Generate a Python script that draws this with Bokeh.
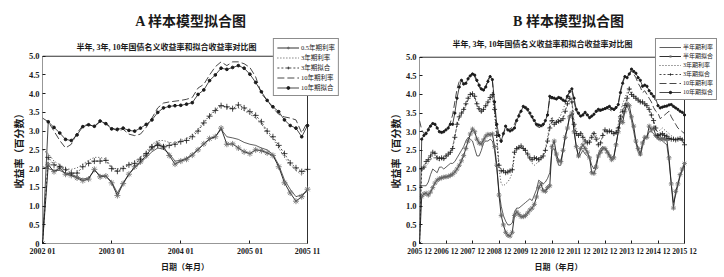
from bokeh.plotting import figure
from bokeh.models import Range1d, FixedTicker, Legend, LegendItem, Title, Label
from bokeh.layouts import row
from bokeh.embed import file_html
from bokeh.resources import INLINE

# ---------------- Panel A (monthly, 2002-01 .. 2005-11) ----------------
a_tick_pos = [0, 12, 24, 36, 46]
a_tick_labels = ["2002 01", "2003 01", "2004 01", "2005 01", "2005 11"]

a_half_rate = [2.05, 2.00, 1.95, 1.95, 1.88, 1.85, 1.78, 1.72, 1.75, 1.95, 1.82, 1.80, 1.65, 1.35, 1.62, 1.85,
               2.02, 2.15, 2.30, 2.45, 2.55, 2.52, 2.40, 2.20, 2.22, 2.28, 2.38, 2.52, 2.65, 2.78, 2.85, 3.05,
               2.85, 2.82, 2.78, 2.70, 2.65, 2.62, 2.55, 2.50, 2.38, 2.10, 1.70, 1.45, 1.25, 1.30, 1.40]
a_half_fit = [0.00, 2.10, 1.92, 2.02, 1.85, 1.82, 1.75, 1.68, 1.72, 1.98, 1.78, 1.80, 1.62, 1.28, 1.60, 1.85,
              2.05, 2.18, 2.35, 2.55, 2.66, 2.58, 2.35, 2.12, 2.20, 2.25, 2.36, 2.50, 2.66, 2.80, 2.85, 3.08,
              2.65, 2.66, 2.55, 2.45, 2.40, 2.50, 2.48, 2.42, 2.35, 2.05, 1.62, 1.35, 1.13, 1.25, 1.45]
a_3y_rate = [2.50, 2.40, 2.20, 2.10, 2.00, 1.98, 2.02, 2.12, 2.22, 2.30, 2.30, 2.25, 2.05, 1.98, 2.05, 2.12,
             2.20, 2.30, 2.45, 2.65, 2.75, 2.75, 2.70, 2.68, 2.75, 2.80, 2.90, 3.05, 3.25, 3.42, 3.58, 3.70,
             3.62, 3.58, 3.62, 3.55, 3.45, 3.35, 3.20, 2.95, 2.80, 2.55, 2.30, 2.10, 1.95, 1.82, 2.00]
a_3y_fit = [0.00, 2.30, 2.10, 2.05, 1.97, 1.88, 1.88, 2.05, 2.14, 2.20, 2.20, 2.22, 2.00, 1.93, 2.00, 2.10,
            2.14, 2.25, 2.40, 2.58, 2.62, 2.58, 2.62, 2.65, 2.72, 2.75, 2.85, 3.00, 3.22, 3.40, 3.55, 3.68,
            3.65, 3.60, 3.70, 3.62, 3.52, 3.42, 3.25, 3.00, 2.85, 2.62, 2.40, 2.15, 2.02, 1.92, 1.98]
a_10y_rate = [3.35, 3.25, 3.00, 2.75, 2.55, 2.65, 2.95, 3.15, 3.18, 3.12, 3.25, 3.20, 3.10, 3.00, 3.05, 2.92,
              2.88, 2.92, 3.10, 3.35, 3.62, 3.75, 3.78, 3.80, 3.82, 3.85, 3.90, 4.15, 4.25, 4.50, 4.72, 4.85,
              4.75, 4.85, 4.85, 4.80, 4.70, 4.45, 4.00, 3.82, 3.62, 3.45, 3.38, 3.35, 3.30, 2.95, 3.25]
a_10y_fit = [0.00, 3.25, 3.10, 2.95, 2.78, 2.75, 2.90, 3.12, 3.17, 3.13, 3.27, 3.20, 3.06, 3.05, 3.08, 3.02,
             3.00, 3.08, 3.18, 3.30, 3.50, 3.62, 3.66, 3.68, 3.69, 3.72, 3.76, 3.98, 4.10, 4.35, 4.50, 4.68,
             4.65, 4.70, 4.75, 4.68, 4.52, 4.30, 4.05, 3.82, 3.65, 3.52, 3.30, 3.15, 3.08, 2.85, 3.15]

# ---------------- Panel B (monthly, 2005-12 .. 2015-12) ----------------
b_tick_pos = [0, 12, 24, 36, 48, 60, 72, 84, 96, 108, 120]
b_tick_labels = ["2005 12", "2006 12", "2007 12", "2008 12", "2009 12", "2010 12",
                 "2011 12", "2012 12", "2013 12", "2014 12", "2015 12"]

b_half_rate = [1.55, 1.55, 1.55, 1.55, 1.65, 1.85, 2.00, 1.95, 1.90, 2.05, 2.05, 2.00, 2.05, 2.10, 2.15, 2.15,
               2.20, 2.30, 2.40, 2.50, 2.60, 2.75, 2.85, 2.80, 2.75, 2.55, 2.35, 2.35, 2.50, 2.70, 2.75, 2.75,
               2.80, 2.75, 2.50, 2.00, 1.40, 1.00, 0.75, 0.60, 0.50, 0.50, 0.55, 0.85, 0.95, 0.95, 1.00, 1.05,
               1.10, 1.15, 1.20, 1.15, 1.30, 1.45, 1.70, 1.65, 1.60, 1.65, 1.75, 1.90, 2.50, 2.55, 2.30, 2.10,
               2.10, 2.50, 2.90, 3.10, 3.45, 3.45, 3.05, 2.60, 2.30, 2.40, 2.50, 2.40, 2.35, 2.30, 2.10, 2.00,
               2.15, 2.40, 2.55, 2.60, 2.55, 2.50, 2.40, 2.30, 2.35, 2.65, 3.00, 3.30, 3.40, 3.60, 3.70, 3.55,
               3.30, 3.00, 2.70, 2.45, 2.35, 2.60, 2.80, 2.85, 3.00, 3.00, 2.95, 2.85, 2.80, 2.80, 2.75, 2.70,
               2.65, 2.20, 1.60, 1.10, 1.30, 1.55, 1.80, 1.95, 2.10]
b_half_fit = [0.00, 1.26, 1.33, 1.35, 1.30, 1.38, 1.50, 1.62, 1.70, 1.74, 1.76, 1.78, 1.79, 1.80, 1.83, 1.86,
              1.92, 2.00, 2.10, 2.22, 2.36, 2.55, 2.75, 2.94, 3.07, 3.00, 2.80, 2.70, 2.67, 2.78, 2.88, 2.93,
              2.92, 2.94, 2.60, 2.10, 1.30, 0.75, 0.50, 0.30, 0.22, 0.20, 0.30, 0.75, 0.85, 0.78, 0.72, 0.72,
              0.75, 0.82, 0.90, 0.95, 1.05, 1.25, 1.50, 1.60, 1.42, 1.40, 1.50, 1.55, 2.60, 2.75, 2.40, 2.22,
              2.20, 2.50, 2.85, 3.10, 3.40, 3.50, 3.00, 2.60, 2.35, 2.55, 2.65, 2.55, 2.45, 2.30, 1.90, 1.88,
              2.05, 2.35, 2.45, 2.55, 2.55, 2.45, 2.35, 2.25, 2.30, 2.65, 3.00, 3.30, 3.25, 3.55, 3.75, 3.70,
              3.40, 3.15, 2.75, 2.55, 2.40, 2.70, 2.85, 2.85, 3.15, 3.05, 3.10, 2.90, 2.85, 2.80, 2.82, 2.80,
              2.80, 2.30, 1.60, 0.95, 1.40, 1.60, 1.85, 2.00, 2.15]
b_3y_rate = [2.00, 1.95, 2.00, 2.10, 2.15, 2.25, 2.30, 2.30, 2.25, 2.22, 2.25, 2.25, 2.30, 2.35, 2.42, 2.60,
             2.90, 3.15, 3.35, 3.45, 3.55, 3.70, 3.85, 3.95, 3.98, 3.90, 3.70, 3.55, 3.50, 3.58, 3.68, 3.75,
             3.85, 3.90, 3.50, 2.75, 2.00, 1.60, 1.55, 1.60, 1.65, 1.75, 1.90, 2.35, 2.50, 2.55, 2.58, 2.55,
             2.45, 2.35, 2.25, 2.15, 2.10, 2.15, 2.20, 2.25, 2.35, 2.55, 2.85, 3.25, 3.40, 3.25, 3.30, 3.35,
             3.45, 3.60, 3.75, 3.85, 3.95, 3.85, 3.30, 3.05, 2.95, 3.00, 2.90, 2.80, 2.75, 2.80, 2.95, 3.00,
             2.90, 2.80, 2.85, 2.98, 3.05, 3.02, 3.00, 2.95, 2.90, 2.95, 3.20, 3.55, 3.75, 3.90, 4.05, 4.20,
             4.10, 4.00, 3.95, 3.85, 3.80, 3.75, 3.70, 3.65, 3.55, 3.40, 3.25, 3.05, 3.00, 3.05, 3.10, 3.05,
             3.00, 2.95, 2.90, 2.85, 2.80, 2.82, 2.80, 2.75, 2.70]
b_3y_fit = [0.00, 2.00, 2.05, 2.20, 2.25, 2.35, 2.45, 2.42, 2.30, 2.28, 2.30, 2.28, 2.35, 2.40, 2.45, 2.55,
            2.85, 3.20, 3.40, 3.50, 3.60, 3.75, 3.90, 4.00, 4.02, 3.95, 3.75, 3.62, 3.55, 3.60, 3.70, 3.80,
            3.92, 4.00, 3.60, 2.90, 2.10, 1.95, 1.95, 1.90, 1.92, 1.95, 1.98, 2.45, 2.55, 2.58, 2.62, 2.55,
            2.50, 2.40, 2.30, 2.25, 2.30, 2.28, 2.25, 2.30, 2.35, 2.50, 2.75, 3.10, 3.30, 3.20, 3.25, 3.28,
            3.30, 3.35, 3.55, 3.75, 3.90, 3.80, 3.20, 2.95, 2.90, 2.95, 2.85, 2.75, 2.70, 2.72, 2.85, 2.95,
            2.80, 2.65, 2.70, 2.90, 3.05, 3.00, 3.02, 3.00, 2.95, 2.98, 3.10, 3.40, 3.55, 3.70, 3.90, 4.15,
            4.00, 3.95, 3.90, 3.85, 3.80, 3.80, 3.75, 3.70, 3.60, 3.45, 3.30, 3.10, 2.90, 2.92, 2.95, 2.90,
            2.88, 2.82, 2.80, 2.80, 2.78, 2.80, 2.82, 2.78, 2.65]
b_10y_rate = [3.30, 3.05, 2.95, 3.00, 3.10, 3.18, 3.25, 3.20, 3.12, 3.02, 3.00, 3.02, 3.05, 3.12, 3.25, 3.45,
              3.80, 4.15, 4.35, 4.40, 4.30, 4.32, 4.45, 4.52, 4.55, 4.48, 4.32, 4.20, 4.12, 4.10, 4.22, 4.40,
              4.50, 4.35, 3.70, 3.05, 2.80, 2.70, 2.95, 3.10, 3.05, 3.08, 3.12, 3.20, 3.35, 3.48, 3.58, 3.65,
              3.62, 3.55, 3.45, 3.38, 3.25, 3.15, 3.12, 3.10, 3.15, 3.28, 3.50, 3.90, 3.88, 3.90, 3.85, 3.90,
              3.88, 3.82, 3.85, 3.98, 4.05, 4.10, 3.80, 3.55, 3.45, 3.40, 3.48, 3.50, 3.42, 3.35, 3.40, 3.45,
              3.52, 3.55, 3.55, 3.58, 3.60, 3.62, 3.60, 3.55, 3.55, 3.62, 3.75, 4.10, 4.35, 4.50, 4.50, 4.55,
              4.62, 4.55, 4.45, 4.30, 4.20, 4.05, 4.10, 4.00, 3.90, 3.80, 3.65, 3.55, 3.50, 3.35, 3.40, 3.45,
              3.50, 3.55, 3.40, 3.30, 3.20, 3.10, 3.05, 3.00, 2.95]
b_10y_fit = [0.00, 2.80, 2.90, 2.95, 3.05, 3.15, 3.22, 3.20, 3.10, 3.00, 2.98, 3.00, 3.05, 3.10, 3.20, 3.20,
             3.50, 3.90, 4.20, 4.38, 4.28, 4.30, 4.42, 4.50, 4.55, 4.52, 4.38, 4.25, 4.15, 4.12, 4.20, 4.35,
             4.48, 4.40, 3.80, 3.20, 2.90, 2.75, 2.95, 3.15, 3.05, 3.02, 3.05, 3.10, 3.30, 3.42, 3.55, 3.68,
             3.65, 3.60, 3.50, 3.40, 3.30, 3.20, 3.18, 3.16, 3.20, 3.30, 3.45, 3.95, 3.92, 3.90, 3.88, 3.92,
             3.90, 3.85, 3.82, 3.95, 4.08, 4.15, 3.90, 3.60, 3.50, 3.42, 3.45, 3.52, 3.45, 3.38, 3.42, 3.47,
             3.55, 3.60, 3.58, 3.60, 3.62, 3.65, 3.68, 3.62, 3.60, 3.65, 3.73, 4.05, 4.30, 4.48, 4.45, 4.55,
             4.68, 4.62, 4.57, 4.45, 4.38, 4.22, 4.25, 4.22, 4.10, 4.02, 3.95, 3.88, 3.70, 3.64, 3.66, 3.68,
             3.69, 3.72, 3.73, 3.68, 3.64, 3.60, 3.55, 3.52, 3.45]

y_ticks = [0, 0.5, 1.0, 1.5, 2.0, 2.5, 3.0, 3.5, 4.0, 4.5, 5.0]
y_tick_labels = ["0", "0.5", "1.0", "1.5", "2.0", "2.5", "3.0", "3.5", "4.0", "4.5", "5.0"]

SUBTITLE = "半年, 3年, 10年国债名义收益率和拟合收益率对比图"
SERIF = "Liberation Serif, Noto Sans CJK SC"
CJK = "Noto Sans CJK SC"
INK = "#1a1a1a"
MARK = "#666666"
W, H = 362, 277
IDSP = "\u3000"


def make_panel(title, tick_pos, tick_labels, series, legend_spec, geo, msize, tick_font, leg_font, xpad):
    # geo: pixel layout of the panel (frame extended to hold the legend box)
    fl, data_r, fr, ft, data_t, fb, sub_cx, sub_cy = geo
    n = len(series[0][1])
    y_top = y_ticks[-1]
    x_end = (n - 1) * (fr - fl) / (data_r - fl)
    y_end = y_top * (fb - ft) / (fb - data_t)
    p = figure(width=W, height=H, output_backend="svg", toolbar_location=None,
               x_range=Range1d(0, x_end), y_range=Range1d(0, y_end),
               min_border_left=fl, min_border_right=W - fr, min_border_top=ft, min_border_bottom=H - fb,
               background_fill_color="white", border_fill_color="white")
    p.title.visible = False
    p.xgrid.visible = False
    p.ygrid.visible = False
    p.outline_line_color = None

    main = Title(text=title, align="center", text_font=SERIF, text_font_size="14px",
                 text_font_style="bold", text_color=INK, standoff=19)
    p.add_layout(main, "above")

    # plot box of the data area
    x_last = n - 1
    p.segment(x0=[0, 0, 0, x_last], y0=[0, y_top, 0, 0], x1=[x_last, x_last, 0, x_last], y1=[0, y_top, y_top, y_top],
              line_color=INK, line_width=0.9)

    p.add_layout(Label(x=sub_cx - fl, y=fb - sub_cy, x_units="screen", y_units="screen", text=SUBTITLE,
                       text_align="center", text_baseline="middle", text_font=SERIF, text_font_size="8px",
                       text_font_style="bold", text_color=INK))

    xs = list(range(n))
    renderers = {}
    for key, vals, kind in series:
        if kind == "half_rate":
            r = p.line(xs, vals, line_color=INK, line_width=0.7)
            renderers[key] = [r]
        elif kind == "half_fit":
            r1 = p.line(xs, vals, line_color=INK, line_width=0.9)
            r2 = p.scatter(xs, vals, marker="asterisk", size=msize, line_color=MARK, line_width=0.8)
            renderers[key] = [r1, r2]
        elif kind == "3y_rate":
            r = p.line(xs, vals, line_color=INK, line_width=0.8, line_dash="1 2")
            renderers[key] = [r]
        elif kind == "3y_fit":
            r1 = p.line(xs, vals, line_color=INK, line_width=0.8, line_dash="2 2")
            r2 = p.scatter(xs, vals, marker="cross", size=msize, line_color=INK, line_width=0.8)
            renderers[key] = [r1, r2]
        elif kind == "10y_rate":
            r = p.line(xs, vals, line_color=INK, line_width=0.8, line_dash="7 3")
            renderers[key] = [r]
        elif kind == "10y_fit":
            r1 = p.line(xs, vals, line_color=INK, line_width=0.8)
            r2 = p.scatter(xs, vals, marker="circle", size=msize * 0.45, fill_color=INK, line_color=INK)
            renderers[key] = [r1, r2]

    items = [LegendItem(label=lab, renderers=renderers[key]) for key, lab in legend_spec]
    lh = 7 if len(items) == 5 else 6
    leg = Legend(items=items, location="top_right", orientation="vertical",
                 label_text_font=SERIF, label_text_font_size=leg_font, label_text_color=INK,
                 label_height=lh, label_standoff=2, glyph_width=22, glyph_height=lh,
                 spacing=0, padding=3, margin=0, border_line_color=INK, border_line_width=0.8,
                 background_fill_color="white", background_fill_alpha=1.0)
    p.add_layout(leg, "center")

    xa = p.xaxis[0]
    xa.ticker = FixedTicker(ticks=tick_pos)
    xa.major_label_overrides = {t: l for t, l in zip(tick_pos, tick_labels)}
    xa.axis_label = "日期（年月）" + IDSP * xpad
    ya = p.yaxis[0]
    ya.ticker = FixedTicker(ticks=y_ticks)
    ya.major_label_overrides = {t: l for t, l in zip(y_ticks, y_tick_labels)}
    ya.axis_label = "收益率（百分数）" + IDSP * 2
    for ax in (xa, ya):
        ax.axis_line_color = None
        ax.major_tick_line_color = INK
        ax.major_tick_in = 3
        ax.major_tick_out = 0
        ax.minor_tick_line_color = None
        ax.major_label_text_font = SERIF
        ax.major_label_text_font_style = "bold"
        ax.major_label_text_color = INK
        ax.major_label_standoff = 3
        ax.axis_label_text_font = CJK
        ax.axis_label_text_font_style = "bold"
        ax.axis_label_text_color = INK
    xa.major_label_text_font_size = tick_font
    ya.major_label_text_font_size = "8.5px"
    xa.axis_label_text_font_size = "8px"
    ya.axis_label_text_font_size = "10px"
    xa.axis_label_standoff = 2
    ya.axis_label_standoff = 0
    return p


pa = make_panel(
    "A 样本模型拟合图", a_tick_pos, a_tick_labels,
    [("hr", a_half_rate, "half_rate"), ("hf", a_half_fit, "half_fit"),
     ("3r", a_3y_rate, "3y_rate"), ("3f", a_3y_fit, "3y_fit"),
     ("10r", a_10y_rate, "10y_rate"), ("10f", a_10y_fit, "10y_fit")],
    [("hf", "0.5年期利率"), ("3r", "3年期利率"), ("3f", "3年期拟合"),
     ("10r", "10年期利率"), ("10f", "10年期拟合")],
    (42, 307, 339, 35, 53, 243, 166, 46.5), 6, "8px", "6.5px", 2)

pb = make_panel(
    "B 样本模型拟合图", b_tick_pos, b_tick_labels,
    [("hr", b_half_rate, "half_rate"), ("hf", b_half_fit, "half_fit"),
     ("3r", b_3y_rate, "3y_rate"), ("3f", b_3y_fit, "3y_fit"),
     ("10r", b_10y_rate, "10y_rate"), ("10f", b_10y_fit, "10y_fit")],
    [("hr", "半年期利率"), ("hf", "半年期拟合"), ("3r", "3年期利率"), ("3f", "3年期拟合"),
     ("10r", "10年期利率"), ("10f", "10年期拟合")],
    (57, 322, 355, 38, 57, 246, 180, 47), 5, "7.5px", "6px", 3)

layout = row(pa, pb, spacing=0)
open("out.html", "w").write(file_html(layout, INLINE))
